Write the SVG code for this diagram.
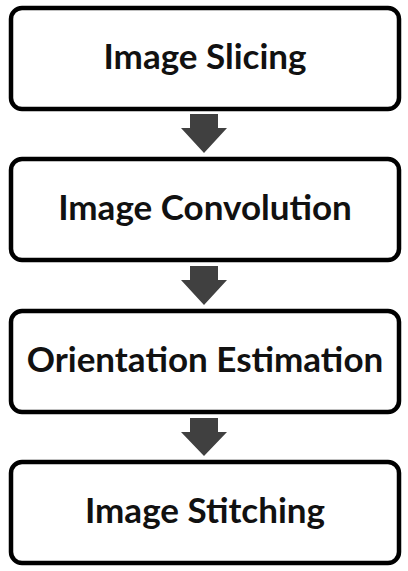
<svg xmlns="http://www.w3.org/2000/svg" width="408" height="571" viewBox="0 0 408 571">
<style>
.box{fill:#fff;stroke:#000;stroke-width:4.5}
.lbl{font-family:Lato,"Open Sans",sans-serif;font-weight:bold;font-size:35px;fill:#111;text-anchor:middle}
.arr{fill:#404040}
</style>
<rect width="408" height="571" fill="#fff"/>
<g id="n1"><rect class="box" x="11" y="8" width="388" height="101" rx="11"/><text class="lbl" x="205" y="69">Image Slicing</text></g>
<g id="n2"><rect class="box" x="11" y="159" width="388" height="101" rx="11"/><text class="lbl" x="205" y="220">Image Convolution</text></g>
<g id="n3"><rect class="box" x="11" y="311" width="388" height="101" rx="11"/><text class="lbl" x="205" y="372">Orientation Estimation</text></g>
<g id="n4"><rect class="box" x="11" y="462" width="388" height="101" rx="11"/><text class="lbl" x="205" y="523">Image Stitching</text></g>
<g id="connectors">
<polygon class="arr" points="190,114 218,114 218,128 227,128 204,153 181,128 190,128"/>
<polygon class="arr" points="190,266 218,266 218,280 227,280 204,305 181,280 190,280"/>
<polygon class="arr" points="190,418 218,418 218,432 227,432 204,456 181,432 190,432"/>
</g>
</svg>
